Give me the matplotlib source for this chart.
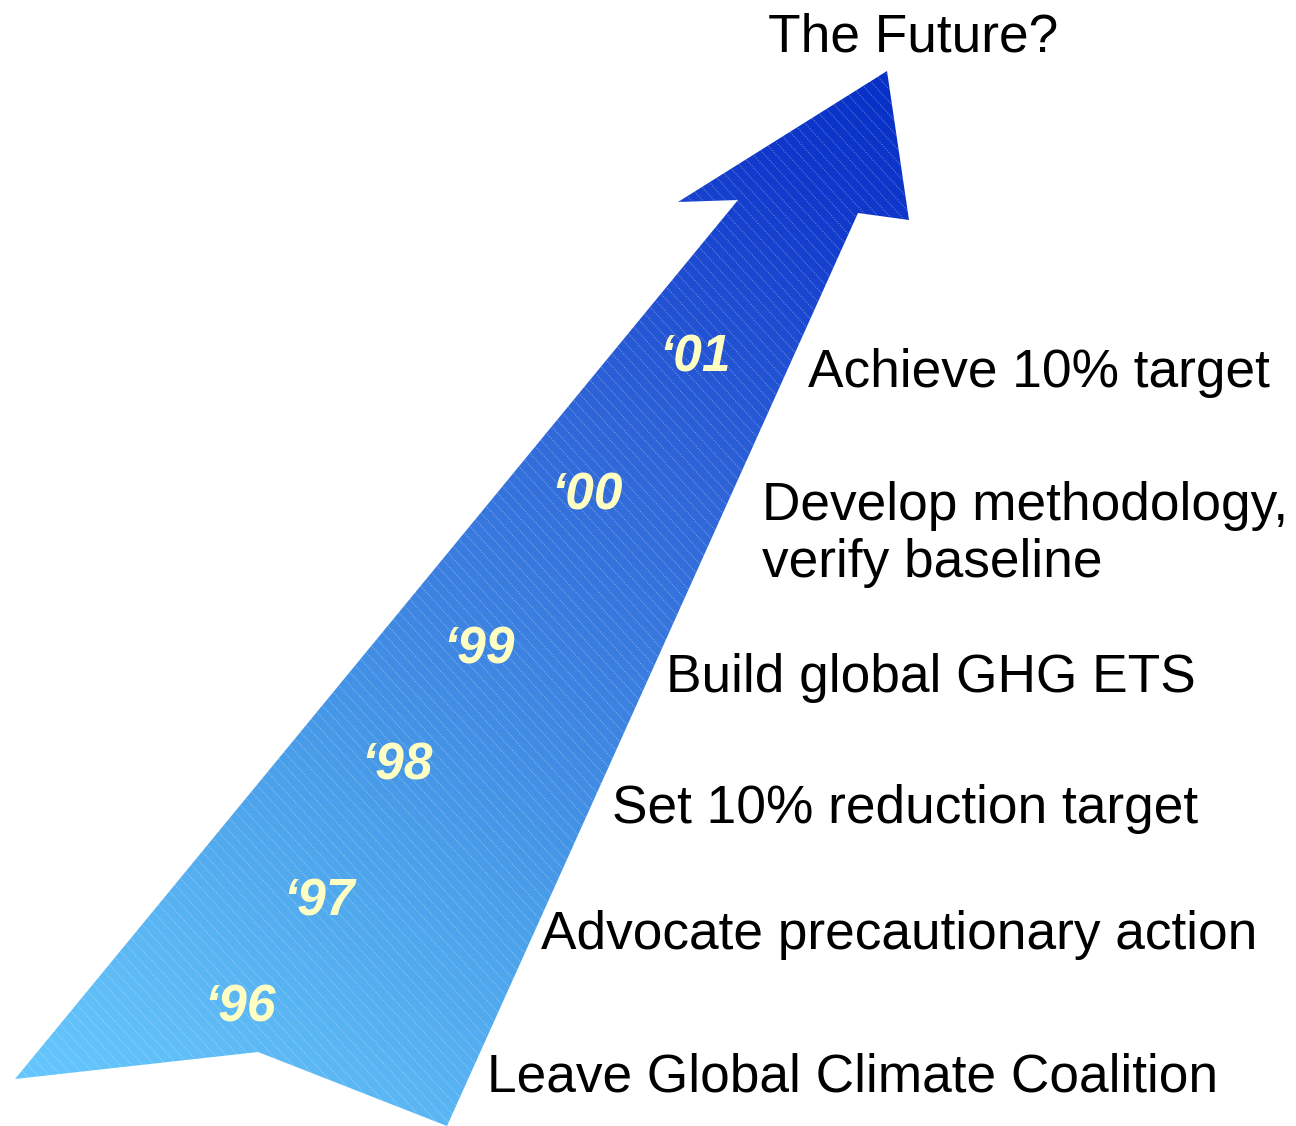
import numpy as np
import matplotlib
matplotlib.use("Agg")
import matplotlib.pyplot as plt
from matplotlib.path import Path
from matplotlib.patches import PathPatch
from matplotlib.collections import LineCollection
from matplotlib.colors import LinearSegmentedColormap

# arrow outline (pixel space of the original slide)
arrow_x = [887, 909, 858, 447, 258, 15, 738, 678]
arrow_y = [71, 220, 213, 1126, 1052, 1079, 200, 202]

years = ["\u201896", "\u201897", "\u201898", "\u201899", "\u201800", "\u201801"]
year_x = [204, 283, 361, 443, 551, 659]
year_y = [1022, 915, 780, 664, 509, 372]   # baselines

steps = ["Leave Global Climate Coalition", "Advocate precautionary action",
         "Set 10% reduction target", "Build global GHG ETS",
         "Develop methodology,\nverify baseline", "Achieve 10% target"]
step_x = [487, 541, 612, 666, 762, 808]
step_y = [1092, 949, 823, 692, 577, 387]   # baselines (last line)

plt.rcParams['font.family'] = ['Liberation Sans', 'DejaVu Sans']

W, H = 1296, 1126
fig = plt.figure(figsize=(W / 100, H / 100), dpi=100)
ax = fig.add_axes([0, 0, 1, 1])
ax.set_xlim(0, W)
ax.set_ylim(H, 0)
ax.axis("off")

verts = list(zip(arrow_x, arrow_y)) + [(arrow_x[0], arrow_y[0])]
codes = [Path.MOVETO] + [Path.LINETO] * (len(arrow_x) - 1) + [Path.CLOSEPOLY]
path = Path(verts, codes)

# gradient along the arrow axis, stops sampled from the slide
t0, t1 = -130.0, 1220.0
stops = [(-130, "#66C8FF"), (-12, "#62C0F8"), (299, "#4AA0EA"),
         (772, "#2E64D8"), (1079, "#1038CC"), (1220, "#0630C6")]
cmap = LinearSegmentedColormap.from_list(
    "arr", [((s - t0) / (t1 - t0), c) for s, c in stops])
gx, gy = np.meshgrid(np.linspace(0, W, 430), np.linspace(0, H, 380))
d = np.array([657.0, -1019.0])
d /= np.linalg.norm(d)
t = (gx - 230) * d[0] + (gy - 1090) * d[1]
img = ax.imshow(t, cmap=cmap, extent=[0, W, H, 0], origin="upper",
                interpolation="bilinear", vmin=t0, vmax=t1, aspect="auto")
clip = PathPatch(path, facecolor="none", edgecolor="none")
ax.add_patch(clip)
img.set_clip_path(clip)

# faint diagonal texture
slope = 1.1
offs = np.arange(-1400, 1400, 11.5)
segs = [[(o, 0), (o + H / slope, H)] for o in offs]
lc = LineCollection(segs, colors=[(1, 1, 1, 0.3)], linewidths=0.8,
                    linestyles=(0, (1.2, 1.2)))
ax.add_collection(lc)
lc.set_clip_path(clip)

for yr, x, y in zip(years, year_x, year_y):
    ax.text(x, y, yr, fontsize=37, fontweight="bold", fontstyle="italic",
            color="#FFFFC4", ha="left", va="baseline")

for s, x, y in zip(steps, step_x, step_y):
    ax.text(x, y, s, fontsize=38.3, color="black", ha="left", va="baseline",
            linespacing=1.17)

ax.text(768, 52, "The Future?", fontsize=38.3, color="black", ha="left", va="baseline")

fig.savefig("out.png", dpi=100)
